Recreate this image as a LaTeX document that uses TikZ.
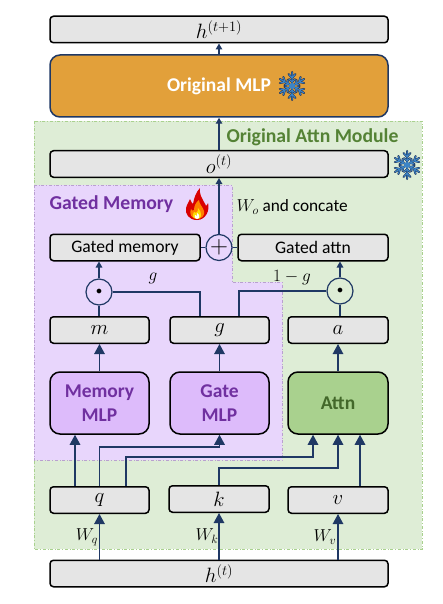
\documentclass[tikz,border=0pt]{standalone}
\usepackage{amsmath,amssymb}
\usepackage{fontspec}
\setmainfont{Carlito}
\usetikzlibrary{arrows.meta}

\definecolor{navyline}{HTML}{1F3864}
\definecolor{greybox}{HTML}{E5E5E5}
\definecolor{greenbg}{HTML}{DEEDD6}
\definecolor{greenedge}{HTML}{A9D18E}
\definecolor{greentext}{HTML}{548235}
\definecolor{purplebg}{HTML}{E8D6FC}
\definecolor{purpleedge}{HTML}{B9A0D0}
\definecolor{purplebox}{HTML}{DDBBFB}
\definecolor{purpletext}{HTML}{7030A0}
\definecolor{orangebox}{HTML}{E2A03A}
\definecolor{iceblue}{HTML}{3D85C6}

\tikzset{
	valbox/.style={draw=black, fill=greybox, line width=1.5pt, rounded corners=3.5pt, minimum height=26.5pt, inner sep=0pt, font=\fontsize{17.6}{18}\selectfont},
	mathbox/.style={valbox, font=\fontsize{20.74}{22}\selectfont},
	mlpbox/.style={draw=black, fill=purplebox, line width=1.5pt, rounded corners=10pt, minimum width=99pt, minimum height=62pt, inner sep=0pt, align=center, text=purpletext, font=\fontsize{19.5}{24}\selectfont\bfseries},
	opcirc/.style={circle, draw=navyline, line width=1.2pt, minimum size=26pt, inner sep=0pt},
	wire/.style={navyline, line width=1.3pt},
	bigarrow/.style={wire, -{Triangle[length=10pt,width=10.5pt]}},
	smallarrow/.style={wire, -{Triangle[length=6pt,width=6.5pt]}},
	snowflake/.pic={
		\foreach \ang in {30,90,...,330} {
			\draw[navyline, line width=2pt, line cap=round, rotate=\ang] (0,0) -- (14,0) (8,0) -- (12,3.5) (8,0) -- (12,-3.5) (4,0) -- (7,3) (4,0) -- (7,-3);
		}
		\foreach \ang in {30,90,...,330} {
			\draw[iceblue, line width=1pt, line cap=round, rotate=\ang] (0,0) -- (13.5,0) (8,0) -- (11.5,3) (8,0) -- (11.5,-3) (4,0) -- (6.5,2.5) (4,0) -- (6.5,-2.5);
		}
		\fill[iceblue] (0,0) circle (3);
	},
	flame/.pic={
		\fill[red!85!black] (0,16) .. controls (-8,16) and (-12,10) .. (-11,4) .. controls (-10,0) and (-8,-2) .. (-7,-5) .. controls (-6,-2) and (-5,-1) .. (-4,0) .. controls (-3,-6) and (-1,-12) .. (3,-16) .. controls (2,-10) and (5,-6) .. (7,-2) .. controls (8,0) and (9,1) .. (9,2) .. controls (10,1) and (11,0) .. (11,-1) .. controls (13,6) and (9,16) .. (0,16) -- cycle;
		\fill[orange] (0,15) .. controls (-6,15) and (-8,9) .. (-6,5) .. controls (-5,7) and (-4,7) .. (-3,6) .. controls (-3,2) and (-1,-2) .. (2,-4) .. controls (2,0) and (6,3) .. (7,7) .. controls (8,11) and (5,15) .. (0,15) -- cycle;
		\fill[yellow!80!orange] (0,15) .. controls (-4,15) and (-5,11) .. (-3,8) .. controls (-2,9) and (-1,9) .. (0,8) .. controls (1,7) and (1,6) .. (1,4) .. controls (3,7) and (5,9) .. (4,12) .. controls (3.5,14) and (2,15) .. (0,15) -- cycle;
		\fill[white] (0,15) .. controls (-2,15) and (-3,13) .. (-2,11) -- (0,12) -- (0,9) .. controls (2,10) and (3,12) .. (2,14) .. controls (1.5,15) and (1,15) .. (0,15) -- cycle;
	},
}

\begin{document}
\begin{tikzpicture}[x=1pt, y=-1pt]
	\useasboundingbox (0,0) rectangle (443,604);

	% backgrounds
	\fill[greenbg] (34,121) rectangle (422,549);
	\draw[greenedge, dashdotted, line width=0.6pt] (34,121) rectangle (422,549);
	\fill[purplebg] (34,185) -- (232,185) -- (232,282) -- (282,282) -- (282,460) -- (34,460) -- cycle;
	\draw[purpleedge, dashdotted, line width=0.7pt] (34,185) -- (232,185) -- (232,282) -- (282,282) -- (282,460) -- (34,460) -- cycle;

	% boxes
	\node[mathbox, minimum width=338pt] (hnext) at (219,29.5) {$h^{(t+1)}$};
	\node[draw=navyline, fill=orangebox, line width=1.5pt, rounded corners=10pt, minimum width=338pt, minimum height=62pt, inner sep=0pt, text=white, font=\fontsize{19.5}{24}\selectfont\bfseries] (origmlp) at (219,86) {Original MLP};
	\node[mathbox, minimum width=338pt] (ostate) at (219,164) {$o^{(t)}$};
	\node[valbox, minimum width=150pt] (gatedmem) at (125,247.5) {Gated memory};
	\node[valbox, minimum width=150pt] (gatedattn) at (313,247.5) {Gated attn};
	\node[opcirc, font=\fontsize{24.88}{24}\selectfont] (plus) at (219,247.5) {$+$};
	\node[opcirc, font=\fontsize{12}{12}\selectfont] (odotm) at (99,292) {$\bullet$};
	\node[opcirc, font=\fontsize{12}{12}\selectfont] (odota) at (340,291) {$\bullet$};
	\node[mathbox, minimum width=99pt] (mval) at (99.5,330) {$m$};
	\node[mathbox, minimum width=99pt] (gval) at (219.5,330) {$g$};
	\node[mathbox, minimum width=100pt] (aval) at (338,330) {$a$};
	\node[mlpbox] (memmlp) at (99.5,403) {Memory\\MLP};
	\node[mlpbox] (gatemlp) at (219.5,403) {Gate\\MLP};
	\node[mlpbox, fill=greenedge, text=greentext!80!black, minimum width=100pt] (attn) at (338,403) {Attn};
	\node[mathbox, minimum width=99pt] (qval) at (99.5,500) {$q$};
	\node[mathbox, minimum width=100pt] (kval) at (219,499) {$k$};
	\node[mathbox, minimum width=100pt] (vval) at (338,500) {$v$};
	\node[mathbox, minimum width=338pt] (hstate) at (219,573.5) {$h^{(t)}$};

	% headings
	\node[text=greentext, font=\fontsize{19.7}{24}\selectfont\bfseries, anchor=west] (attntitle) at (223,137) {Original Attn Module};
	\node[text=purpletext, font=\fontsize{19.7}{24}\selectfont\bfseries, anchor=west] (memtitle) at (46,204) {Gated Memory};
	\node[font=\fontsize{17.28}{18}\selectfont, anchor=west] (wolabel) at (233,207) {$W_o$ and concate};

	% icons
	\pic (iceone) at (292,86) {snowflake};
	\pic (icetwo) at (407,165) {snowflake};
	\pic (fire) at (197,204) {flame};

	% upper path
	\draw[smallarrow] (origmlp.north) -- (hnext.south);
	\draw[smallarrow] (ostate.north) -- (origmlp.south);
	\draw[smallarrow] (plus.north) -- (ostate.south);
	\draw[wire] (gatedmem.east) -- (plus.west);
	\draw[wire] (plus.east) -- (gatedattn.west);
	\draw[smallarrow] (odotm.north) -- (odotm.north |- gatedmem.south);
	\draw[smallarrow] (odota.north) -- (odota.north |- gatedattn.south);

	% gates
	\coordinate (gleft) at (200,0);
	\coordinate (gright) at (239,0);
	\draw[wire] (mval.north -| odotm.south) -- (odotm.south);
	\draw[wire] (aval.north -| odota.south) -- (odota.south);
	\draw[wire] (odotm.east) -- (odotm.east -| gleft) -- (gleft |- gval.north);
	\draw[wire] (gright |- gval.north) -- (gright |- odota.west) -- (odota.west);
	\node[font=\fontsize{17.28}{18}\selectfont] (glabel) at (153,278) {$g$};
	\node[font=\fontsize{17.28}{18}\selectfont] (gcompl) at (292,278) {$1-g$};

	% modules to values
	\draw[bigarrow] (memmlp.north) -- (mval.south);
	\draw[bigarrow] (gatemlp.north) -- (gval.south);
	\draw[bigarrow] (attn.north) -- (aval.south);

	% queries, keys, values
	\coordinate (qmem) at (75,0);
	\coordinate (qattn) at (126,0);
	\coordinate (attnq) at (313,0);
	\coordinate (attnv) at (360,0);
	\draw[bigarrow] (qmem |- qval.north) -- (qmem |- memmlp.south);
	\draw[bigarrow] (qval.north) -- (99.5,447) -- (219.5,447) -- (gatemlp.south);
	\draw[bigarrow] (qattn |- qval.north) -- (126,457) -- (313,457) -- (attnq |- attn.south);
	\draw[bigarrow] (kval.north) -- (219,468) -- (338,468) -- (attn.south);
	\draw[bigarrow] (attnv |- vval.north) -- (attnv |- attn.south);

	% projections
	\draw[bigarrow] (qval.south |- hstate.north) -- (qval.south);
	\draw[bigarrow] (kval.south |- hstate.north) -- (kval.south);
	\draw[bigarrow] (vval.south |- hstate.north) -- (vval.south);
	\node[font=\fontsize{17.28}{18}\selectfont] (wq) at (87,537) {$W_q$};
	\node[font=\fontsize{17.28}{18}\selectfont] (wk) at (207,536) {$W_k$};
	\node[font=\fontsize{17.28}{18}\selectfont] (wv) at (325,537) {$W_v$};
\end{tikzpicture}
\end{document}
